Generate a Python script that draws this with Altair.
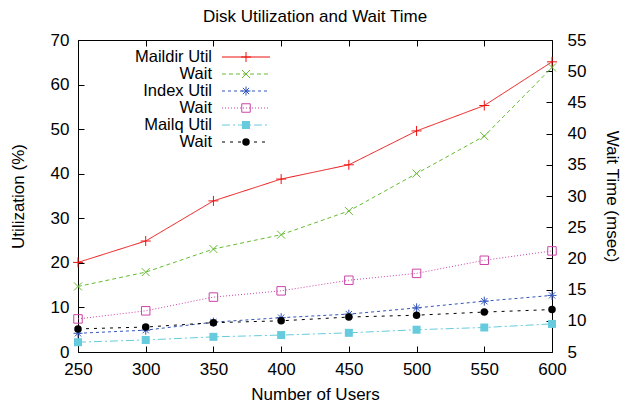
import altair as alt
import pandas as pd

users = [250, 300, 350, 400, 450, 500, 550, 600]
maildir_util = [20.1, 24.9, 33.9, 38.8, 42.0, 49.6, 55.3, 65.1]
maildir_wait = [15.5, 17.8, 21.5, 23.8, 27.6, 33.6, 39.6, 50.6]
index_util = [4.2, 4.9, 6.7, 7.7, 8.5, 9.9, 11.4, 12.7]
index_wait = [10.3, 11.6, 13.8, 14.8, 16.5, 17.6, 19.7, 21.2]
mailq_util = [2.2, 2.7, 3.4, 3.8, 4.3, 5.0, 5.5, 6.3]
mailq_wait = [8.7, 9.0, 9.7, 10.0, 10.6, 10.9, 11.4, 11.8]

series_names = ["Maildir Util", "Wait", "Index Util", "Wait", "Mailq Util", "Wait"]
series_values = [maildir_util, maildir_wait, index_util, index_wait, mailq_util, mailq_wait]
series_axis = ["util", "wait", "util", "wait", "util", "wait"]
series_colors = ["#ee1111", "#66bb33", "#3355bb", "#cc44aa", "#66ccdd", "#000000"]
series_dash = [[1, 0], [4, 3], [3, 3], [1, 2], [8, 3, 2, 3], [3, 5]]
PLUS = "M-1,0H1M0,-1V1"
XMARK = "M-1,-1L1,1M1,-1L-1,1"
STAR = "M-1,0H1M0,-1V1M-0.7,-0.7L0.7,0.7M0.7,-0.7L-0.7,0.7"
series_shapes = [PLUS, XMARK, STAR, "square", "square", "circle"]
series_sizes = [100, 64, 81, 72, 64, 56]
series_filled = [False, False, False, False, True, True]

FONT = "Liberation Sans"
FS = 17

x_util = alt.X(
    "users:Q",
    scale=alt.Scale(domain=[250, 600], nice=False, zero=False),
    axis=alt.Axis(
        title="Number of Users", orient="bottom", values=users, offset=-6, tickSize=6,
        domain=False, grid=False, labelPadding=9, titlePadding=9, tickColor="black",
        labelFlush=False,
    ),
)
x_wait = alt.X(
    "users:Q",
    scale=alt.Scale(domain=[250, 600], nice=False, zero=False),
    axis=alt.Axis(
        title=None, orient="top", values=users, offset=-6, tickSize=6,
        domain=False, grid=False, labels=False, tickColor="black",
    ),
)
y_util = alt.Y(
    "value:Q",
    scale=alt.Scale(domain=[0, 70], nice=False, zero=False),
    axis=alt.Axis(
        title="Utilization (%)", orient="left", values=list(range(0, 71, 10)), offset=-6,
        tickSize=6, domain=False, grid=False, labelPadding=9, titlePadding=23, tickColor="black",
        labelFlush=False,
    ),
)
y_wait = alt.Y(
    "value:Q",
    scale=alt.Scale(domain=[5, 55], nice=False, zero=False),
    axis=alt.Axis(
        title="Wait Time (msec)", orient="right", values=list(range(5, 56, 5)), offset=-6,
        tickSize=6, domain=False, grid=False, labelPadding=15, titlePadding=17, tickColor="black",
        labelFlush=False,
    ),
)

util_layers = []
wait_layers = []
legend_layers = []
row_y = [17, 34, 51, 68, 85, 102]
for i, name in enumerate(series_names):
    df = pd.DataFrame({"users": users, "value": series_values[i]})
    xe = x_util if series_axis[i] == "util" else x_wait
    ye = y_util if series_axis[i] == "util" else y_wait
    line = alt.Chart(df).mark_line(
        color=series_colors[i], strokeDash=series_dash[i], strokeWidth=1
    ).encode(x=xe, y=ye)
    pts = alt.Chart(df).mark_point(
        shape=series_shapes[i], size=series_sizes[i], filled=series_filled[i],
        color=series_colors[i], strokeWidth=1, opacity=1,
    ).encode(x=xe, y=ye)
    target = util_layers if series_axis[i] == "util" else wait_layers
    target += [line, pts]

    ldf = pd.DataFrame({"label": [name]})
    legend_layers.append(
        alt.Chart(ldf).mark_text(align="right", baseline="middle", font=FONT, fontSize=16.5, color="black")
        .encode(x=alt.value(134), y=alt.value(row_y[i]), text="label:N")
    )
    legend_layers.append(
        alt.Chart(ldf).mark_rule(color=series_colors[i], strokeDash=series_dash[i], strokeWidth=1)
        .encode(x=alt.value(144), x2=alt.value(192), y=alt.value(row_y[i]))
    )
    legend_layers.append(
        alt.Chart(ldf).mark_point(
            shape=series_shapes[i], size=series_sizes[i], filled=series_filled[i],
            color=series_colors[i], strokeWidth=1, opacity=1,
        ).encode(x=alt.value(168), y=alt.value(row_y[i]))
    )

util_group = alt.layer(*util_layers, *legend_layers)
wait_group = alt.layer(*wait_layers)

chart = (
    alt.layer(util_group, wait_group)
    .resolve_scale(y="independent")
    .resolve_axis(x="independent", y="independent")
    .properties(
        width=474, height=312,
        background="white",
        title=alt.TitleParams("Disk Utilization and Wait Time", font=FONT, fontSize=FS,
                              fontWeight="normal", anchor="middle", offset=5, color="black"),
        autosize=alt.AutoSizeParams(type="none"),
        padding={"left": 70, "top": 32, "right": 74, "bottom": 57},
    )
    .configure_view(stroke="black", strokeWidth=1)
    .configure_axis(labelFont=FONT, titleFont=FONT, labelFontSize=FS, titleFontSize=FS,
                    titleFontWeight="normal", labelColor="black", titleColor="black")
)

chart.save("out.html", embed_options={"renderer": "svg", "actions": False})
